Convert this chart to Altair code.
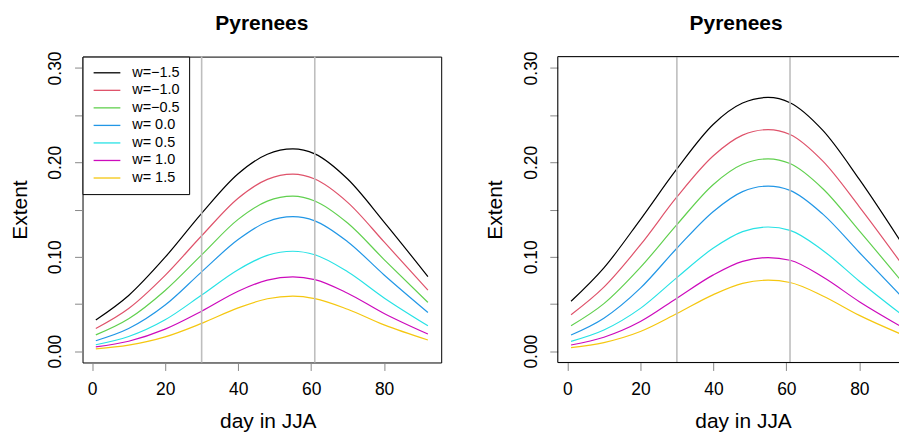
import altair as alt
import pandas as pd

# ---------------- data ----------------
days = [1, 10, 20, 30, 40, 48, 55, 61, 70, 80, 92]
labels = ["w=\u22121.5", "w=\u22121.0", "w=\u22120.5", "w= 0.0", "w= 0.5", "w= 1.0", "w= 1.5"]
colors = ["#000000", "#DF536B", "#61D04F", "#2297E6", "#28E2E5", "#CD0BBC", "#F5C710"]

left_black = [0.0330, 0.0590, 0.0995, 0.1460, 0.1879, 0.2086, 0.2143, 0.2090, 0.1823, 0.1367, 0.0790]
left_red = [0.0240, 0.0452, 0.0803, 0.1222, 0.1620, 0.1820, 0.1875, 0.1823, 0.1576, 0.1157, 0.0646]
left_green = [0.0172, 0.0343, 0.0643, 0.1020, 0.1396, 0.1589, 0.1642, 0.1591, 0.1357, 0.0970, 0.0516]
left_blue = [0.0110, 0.0239, 0.0488, 0.0840, 0.1182, 0.1371, 0.1424, 0.1380, 0.1159, 0.0807, 0.0410]
left_cyan = [0.0068, 0.0155, 0.0332, 0.0594, 0.0863, 0.1015, 0.1058, 0.1021, 0.0841, 0.0564, 0.0269]
left_magenta = [0.0045, 0.0105, 0.0233, 0.0423, 0.0634, 0.0753, 0.0787, 0.0758, 0.0614, 0.0399, 0.0181]
left_yellow = [0.0025, 0.0064, 0.0151, 0.0294, 0.0458, 0.0555, 0.0583, 0.0557, 0.0444, 0.0278, 0.0118]

right_black = [0.0528, 0.0882, 0.1394, 0.1930, 0.2404, 0.2628, 0.2688, 0.2632, 0.2338, 0.1819, 0.1121]
right_red = [0.0386, 0.0678, 0.1125, 0.1633, 0.2070, 0.2288, 0.2347, 0.2295, 0.2012, 0.1529, 0.0903]
right_green = [0.0269, 0.0503, 0.0887, 0.1340, 0.1766, 0.1979, 0.2037, 0.1987, 0.1720, 0.1274, 0.0720]
right_blue = [0.0171, 0.0349, 0.0667, 0.1090, 0.1480, 0.1690, 0.1748, 0.1703, 0.1451, 0.1045, 0.0562]
right_cyan = [0.0104, 0.0224, 0.0453, 0.0779, 0.1092, 0.1266, 0.1315, 0.1280, 0.1067, 0.0741, 0.0375]
right_magenta = [0.0065, 0.0147, 0.0313, 0.0561, 0.0808, 0.0951, 0.0991, 0.0963, 0.0785, 0.0524, 0.0248]
right_yellow = [0.0037, 0.0091, 0.0208, 0.0398, 0.0599, 0.0718, 0.0752, 0.0727, 0.0585, 0.0379, 0.0171]

vlines = [30, 61]
x_ticks = [0, 20, 40, 60, 80]
y_ticks = [0.0, 0.05, 0.10, 0.15, 0.20, 0.25, 0.30]
panel_title = "Pyrenees"
x_title = "day in JJA"
y_title = "Extent"

FONT = "Liberation Sans"
H = 307
W1 = 360
W2 = 349
X_PER_PX = (95.64 + 2.64) / W1


def long_df(series_list):
    rows = []
    for lab, series in zip(labels, series_list):
        for d, v in zip(days, series):
            rows.append({"day": d, "extent": v, "w": lab})
    return pd.DataFrame(rows)


def panel(series_list, width, xmax, show_legend, title_dx, framed):
    df = long_df(series_list)
    xscale = alt.Scale(domain=[-2.64, xmax], nice=False, zero=False)
    yscale = alt.Scale(domain=[-0.012, 0.312], nice=False, zero=False)
    xaxis = alt.Axis(values=x_ticks, format="d", title=x_title, tickSize=8,
                     labelPadding=10, domain=False, grid=False,
                     labelFontSize=17.5, titleFontSize=21, titleFontWeight="normal",
                     titleX=186, titleY=65.1, titleBaseline="alphabetic",
                     titleAlign="center", labelFlush=False)
    yaxis = alt.Axis(values=y_ticks, title=y_title, tickSize=8,
                     labelExpr="round(datum.value*100) % 10 == 0 ? format(datum.value, '.2f') : ''",
                     labelAngle=270, labelAlign="center", labelBaseline="alphabetic",
                     labelPadding=13.8, labelOverlap=False, labelFlush=False,
                     domain=False, grid=False, labelFontSize=17.5,
                     titleFontSize=21, titleFontWeight="normal", titleAngle=270,
                     titleBaseline="alphabetic", titleAlign="center",
                     titleX=-56.5, titleY=H / 2)
    if show_legend:
        legend = alt.Legend(title=None, orient="top-left", offset=0, padding=9,
                            symbolType="M-3,0H3", symbolSize=80,
                            symbolStrokeWidth=1.3, labelFontSize=14.5,
                            labelFont=FONT, labelColor="black", labelOffset=18.1,
                            symbolOffset=8.3, rowPadding=2.6,
                            strokeColor="black", fillColor="white")
    else:
        legend = None
    lines = alt.Chart(df).mark_line(interpolate="monotone", strokeWidth=1.2, clip=True).encode(
        x=alt.X("day:Q", scale=xscale, axis=xaxis),
        y=alt.Y("extent:Q", scale=yscale, axis=yaxis),
        color=alt.Color("w:N", scale=alt.Scale(domain=labels, range=colors), legend=legend),
    )
    rules = alt.Chart(pd.DataFrame({"day": vlines})).mark_rule(
        color="#BEBEBE", strokeWidth=1.6).encode(x=alt.X("day:Q", scale=xscale))
    layers = [lines, rules]
    if not framed:
        one = pd.DataFrame({"k": [0]})
        layers.append(alt.Chart(one).mark_rule(color="black", strokeWidth=1).encode(
            x=alt.value(0), x2=alt.value(width), y=alt.value(0)))
        layers.append(alt.Chart(one).mark_rule(color="black", strokeWidth=1).encode(
            x=alt.value(0), x2=alt.value(width), y=alt.value(H)))
        layers.append(alt.Chart(one).mark_rule(color="black", strokeWidth=1).encode(
            x=alt.value(0), y=alt.value(0), y2=alt.value(H)))
    ch = alt.layer(*layers).properties(
        width=width, height=H,
        title=alt.TitleParams(panel_title, fontSize=21, fontWeight="bold", font=FONT,
                              anchor="middle", frame="group", offset=16.9, dx=title_dx,
                              color="black"))
    if framed:
        ch = ch.properties(view=alt.ViewBackground(stroke="black", strokeWidth=1))
    return ch


left = panel([left_black, left_red, left_green, left_blue, left_cyan, left_magenta, left_yellow],
             W1, 95.64, True, 0, True)
right = panel([right_black, right_red, right_green, right_blue, right_cyan, right_magenta, right_yellow],
              W2, -2.64 + W2 * X_PER_PX, False, 4.5, False)

chart = alt.hconcat(left, right, spacing=42).resolve_legend(color="independent").properties(
    padding={"left": 0.8, "top": 3, "right": -7.5, "bottom": 0}
).configure_view(stroke=None).configure_axis(
    labelFont=FONT, titleFont=FONT, labelColor="black", titleColor="black",
    tickColor="black", tickWidth=1, titleFontWeight="normal"
).configure(background="white")

chart.save("out.html", embed_options={"renderer": "svg", "actions": False})
